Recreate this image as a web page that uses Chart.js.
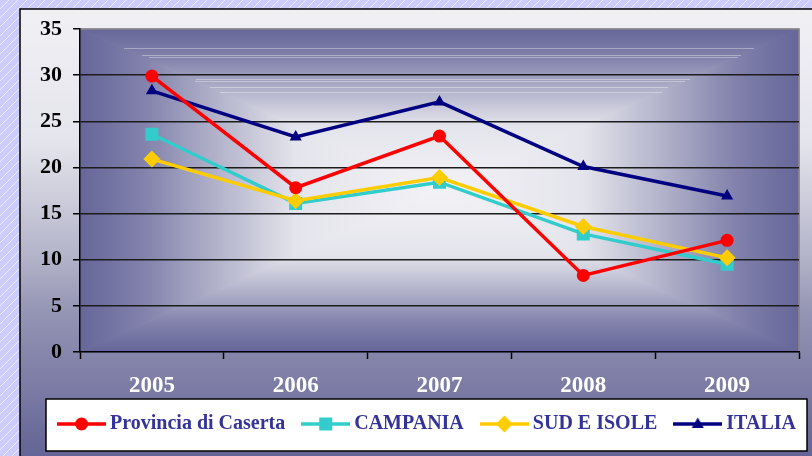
<!DOCTYPE html>
<html>
<head>
  <meta charset="utf-8">
  <title>Caserta chart</title>
  <script src="https://cdn.jsdelivr.net/npm/chart.js@4.4.1/dist/chart.umd.min.js"></script>
  <style>
    html, body { margin: 0; padding: 0; background: #ccccff; }
    #wrap { width: 812px; height: 456px; }
  </style>
</head>
<body>
  <div id="wrap"><canvas id="chart" width="812" height="456"></canvas></div>
  <script>
    // data
    var years = ['2005', '2006', '2007', '2008', '2009'];
    var caserta = [29.9, 17.8, 23.4, 8.3, 12.1];
    var campania = [23.6, 16.1, 18.4, 12.8, 9.5];
    var sudIsole = [20.9, 16.4, 18.9, 13.6, 10.2];
    var italia = [28.3, 23.3, 27.1, 20.1, 16.9];
    var yTicks = [0, 5, 10, 15, 20, 25, 30, 35];

    var serif = "'Times New Roman', 'Liberation Serif', serif";

    // legend icons: line with the marker in the middle
    function makeIcon(color, shape) {
      var c = document.createElement('canvas');
      c.width = 49; c.height = 20;
      var g = c.getContext('2d');
      g.strokeStyle = color; g.fillStyle = color; g.lineWidth = 3.5;
      g.beginPath(); g.moveTo(0, 10); g.lineTo(49, 10); g.stroke();
      g.beginPath();
      if (shape == 'circle') {
        g.arc(24.5, 10, 6.5, 0, Math.PI * 2);
      } else if (shape == 'rect') {
        g.rect(18, 3.5, 13, 13);
      } else if (shape == 'diamond') {
        g.moveTo(24.5, 1.5); g.lineTo(33, 10); g.lineTo(24.5, 18.5); g.lineTo(16, 10);
      } else {
        g.moveTo(24.5, 3.5); g.lineTo(30.5, 14); g.lineTo(18.5, 14);
      }
      g.closePath(); g.fill();
      return c;
    }
    var icons = [
      makeIcon('#ff0000', 'circle'),
      makeIcon('#33cccc', 'rect'),
      makeIcon('#ffcc00', 'diamond'),
      makeIcon('#000080', 'triangle')
    ];

    var legendBox = null;

    var backdrop = {
      id: 'backdrop',
      afterLayout: function(chart) {
        var lg = chart.legend;
        var a = chart.chartArea;
        legendBox = { left: a.left - 34, right: a.right + 8, top: lg.top, bottom: lg.bottom };
        lg.top -= 7; lg.bottom -= 7;
        lg.left += 20; lg.right += 20;
      },
      beforeDraw: function(chart) {
        var ctx = chart.ctx, W = chart.width, H = chart.height, a = chart.chartArea;
        ctx.save();
        // lavender striped page
        ctx.fillStyle = '#ccccff';
        ctx.fillRect(0, 0, W, H);
        ctx.strokeStyle = 'rgba(255,255,255,0.6)';
        ctx.lineWidth = 1;
        for (var s = -H; s < W; s += 9) {
          ctx.beginPath(); ctx.moveTo(s, H); ctx.lineTo(s + H, 0); ctx.stroke();
        }
        // frame
        var fg = ctx.createLinearGradient(0, 9, 0, H);
        fg.addColorStop(0, '#f0f0f4');
        fg.addColorStop(0.3, '#e4e4ec');
        fg.addColorStop(0.55, '#b4b4ca');
        fg.addColorStop(0.68, '#9494b4');
        fg.addColorStop(1, '#646496');
        ctx.fillStyle = fg;
        ctx.fillRect(20, 9, W, H);
        ctx.strokeStyle = '#000';
        ctx.lineWidth = 1.5;
        ctx.strokeRect(20, 9, W + 20, H + 20);

        // plot area: rectangle gradient from the centre
        var cx = (a.left + a.right) / 2, cy = (a.top + a.bottom) / 2;
        var stops = [[0, '#f2f2f6'], [0.4, '#e4e4ec'], [0.65, '#ababc6'], [0.82, '#8282ac'], [1, '#666699']];
        var parts = [
          [[a.left, a.top], [a.right, a.top], [cx, a.top]],
          [[a.right, a.top], [a.right, a.bottom], [a.right, cy]],
          [[a.right, a.bottom], [a.left, a.bottom], [cx, a.bottom]],
          [[a.left, a.bottom], [a.left, a.top], [a.left, cy]]
        ];
        parts.forEach(function(p) {
          var g = ctx.createLinearGradient(cx, cy, p[2][0], p[2][1]);
          stops.forEach(function(st) { g.addColorStop(st[0], st[1]); });
          ctx.beginPath();
          ctx.moveTo(cx, cy); ctx.lineTo(p[0][0], p[0][1]); ctx.lineTo(p[1][0], p[1][1]);
          ctx.closePath();
          ctx.fillStyle = g; ctx.strokeStyle = g; ctx.lineWidth = 1;
          ctx.fill(); ctx.stroke();
        });
        // faint light streaks near the top
        ctx.strokeStyle = 'rgba(255,255,255,0.35)';
        ctx.lineWidth = 1;
        [[124, 754, 48], [142, 741, 55], [149, 738, 57], [196, 690, 79], [195, 685, 81], [210, 668, 87], [220, 662, 92]].forEach(function(l) {
          ctx.beginPath(); ctx.moveTo(l[0], l[2] + 0.5); ctx.lineTo(l[1], l[2] + 0.5); ctx.stroke();
        });
        // grey border top and right
        ctx.strokeStyle = '#8a8a8a';
        ctx.lineWidth = 1.5;
        ctx.beginPath();
        ctx.moveTo(a.left, a.top); ctx.lineTo(a.right, a.top); ctx.lineTo(a.right, a.bottom);
        ctx.stroke();

        // legend box
        if (legendBox) {
          ctx.fillStyle = '#ffffff';
          ctx.fillRect(legendBox.left, legendBox.top, legendBox.right - legendBox.left, legendBox.bottom - legendBox.top);
          ctx.strokeStyle = '#000';
          ctx.lineWidth = 1.5;
          ctx.strokeRect(legendBox.left, legendBox.top, legendBox.right - legendBox.left, legendBox.bottom - legendBox.top);
        }
        ctx.restore();
      }
    };

    var chart = new Chart(document.getElementById('chart'), {
      type: 'line',
      data: {
        labels: years,
        datasets: [
          { label: 'Provincia di Caserta', data: caserta, borderColor: '#ff0000', backgroundColor: '#ff0000',
            pointStyle: 'circle', pointRadius: 6.5, order: 0 },
          { label: 'CAMPANIA', data: campania, borderColor: '#33cccc', backgroundColor: '#33cccc',
            pointStyle: 'rect', pointRadius: 9.2, order: 2 },
          { label: 'SUD E ISOLE', data: sudIsole, borderColor: '#ffcc00', backgroundColor: '#ffcc00',
            pointStyle: 'rectRot', pointRadius: 8.5, order: 1 },
          { label: 'ITALIA', data: italia, borderColor: '#000080', backgroundColor: '#000080',
            pointStyle: 'triangle', pointRadius: 7, order: 3 }
        ]
      },
      options: {
        responsive: false,
        animation: false,
        devicePixelRatio: 1,
        layout: { padding: { left: 20, right: 13, top: 29, bottom: 5 } },
        elements: {
          line: { borderWidth: 3.5, tension: 0 },
          point: { borderWidth: 0, hoverRadius: 7 }
        },
        scales: {
          x: {
            offset: true,
            grid: { offset: true, drawOnChartArea: false, drawTicks: true, tickLength: 7, tickColor: '#000', tickWidth: 1.5 },
            border: { color: '#000', width: 1.5 },
            ticks: { color: '#ffffff', padding: 13, font: { family: serif, size: 23, weight: 'bold' } },
            afterFit: function(s) { s.height = 47; }
          },
          y: {
            min: 0, max: 35,
            afterBuildTicks: function(s) { s.ticks = yTicks.map(function(v) { return { value: v }; }); },
            grid: {
              color: function(c) { return (c.tick && c.tick.value > 0 && c.tick.value < 35) ? '#1c1c1c' : 'rgba(0,0,0,0)'; },
              lineWidth: 1.5, tickLength: 7, tickColor: '#000', tickWidth: 1.5
            },
            border: { color: '#000', width: 1.5 },
            ticks: { color: '#000', padding: 11, font: { family: serif, size: 22, weight: 'bold' } },
            afterFit: function(s) { s.width = 60; }
          }
        },
        plugins: {
          tooltip: { enabled: false },
          legend: {
            position: 'bottom',
            labels: {
              usePointStyle: true,
              pointStyleWidth: 37,
              boxHeight: 20,
              padding: 22,
              color: '#333399',
              font: { family: serif, size: 20, weight: 'bold' },
              sort: function(a, b) { return a.datasetIndex - b.datasetIndex; },
              generateLabels: function(c) {
                var items = Chart.defaults.plugins.legend.labels.generateLabels(c);
                items.forEach(function(it) { it.pointStyle = icons[it.datasetIndex]; });
                return items;
              }
            }
          }
        }
      },
      plugins: [backdrop]
    });
  </script>
</body>
</html>
